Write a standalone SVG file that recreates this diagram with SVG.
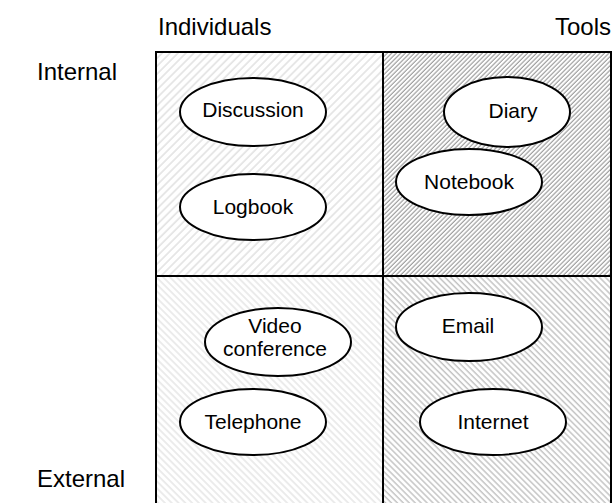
<svg xmlns="http://www.w3.org/2000/svg" width="613" height="503" viewBox="0 0 613 503">
<defs>
<style>
.lbl{font-family:"Liberation Sans",Arial,sans-serif;font-size:21px;fill:#000;text-anchor:middle}
.hd{font-family:"Liberation Sans",Arial,sans-serif;font-size:24px;fill:#000}
.el{fill:#fff;stroke:#000;stroke-width:2}
.grid{fill:none;stroke:#000;stroke-width:2}
</style>
<pattern id="pTL" patternUnits="userSpaceOnUse" width="5.6" height="10" patternTransform="rotate(45)">
<rect width="5.6" height="10" fill="#fff"/><line x1="1" y1="0" x2="1" y2="10" stroke="#e2e2e2" stroke-width="1.6"/>
</pattern>
<pattern id="pTR" patternUnits="userSpaceOnUse" width="3.2" height="10" patternTransform="rotate(45)">
<rect width="3.2" height="10" fill="#fff"/><line x1="1" y1="0" x2="1" y2="10" stroke="#a0a0a0" stroke-width="1.2"/>
</pattern>
<pattern id="pBL" patternUnits="userSpaceOnUse" width="4.8" height="10" patternTransform="rotate(-45)">
<rect width="4.8" height="10" fill="#fff"/><line x1="1" y1="0" x2="1" y2="10" stroke="#e6e6e6" stroke-width="1.5"/>
</pattern>
<pattern id="pBR" patternUnits="userSpaceOnUse" width="4.2" height="10" patternTransform="rotate(-45)">
<rect width="4.2" height="10" fill="#fff"/><line x1="1" y1="0" x2="1" y2="10" stroke="#c4c4c4" stroke-width="1.5"/>
</pattern>
</defs>
<rect width="613" height="503" fill="#fff"/>
<g id="quadrants">
<rect x="156" y="52" width="227" height="224" fill="url(#pTL)"/>
<rect x="383" y="52" width="228" height="224" fill="url(#pTR)"/>
<rect x="156" y="276" width="227" height="240" fill="url(#pBL)"/>
<rect x="383" y="276" width="228" height="240" fill="url(#pBR)"/>
<rect class="grid" x="156" y="52" width="455" height="470"/>
<line class="grid" x1="383" y1="52" x2="383" y2="510"/>
<line class="grid" x1="156" y1="276" x2="611" y2="276"/>
</g>
<g id="headings">
<text class="hd" x="158" y="35">Individuals</text>
<text class="hd" x="611" y="35" text-anchor="end">Tools</text>
<text class="hd" x="37" y="80">Internal</text>
<text class="hd" x="37" y="487">External</text>
</g>
<g id="discussion"><ellipse class="el" cx="253" cy="112" rx="73" ry="34"/><text class="lbl" x="253" y="117">Discussion</text></g>
<g id="logbook"><ellipse class="el" cx="253" cy="207" rx="73" ry="33"/><text class="lbl" x="253" y="214">Logbook</text></g>
<g id="diary"><ellipse class="el" cx="507" cy="112" rx="63" ry="35"/><text class="lbl" x="513" y="118">Diary</text></g>
<g id="notebook"><ellipse class="el" cx="469" cy="182" rx="73" ry="33"/><text class="lbl" x="469" y="189">Notebook</text></g>
<g id="video"><ellipse class="el" cx="278" cy="342" rx="73" ry="34"/><text class="lbl" x="275" y="333">Video</text><text class="lbl" x="275" y="356">conference</text></g>
<g id="telephone"><ellipse class="el" cx="253" cy="422" rx="73" ry="33"/><text class="lbl" x="253" y="429">Telephone</text></g>
<g id="email"><ellipse class="el" cx="469" cy="327" rx="73" ry="34"/><text class="lbl" x="468" y="333">Email</text></g>
<g id="internet"><ellipse class="el" cx="493" cy="422" rx="73" ry="33"/><text class="lbl" x="493" y="429">Internet</text></g>
<g id="connectors"></g>
</svg>
